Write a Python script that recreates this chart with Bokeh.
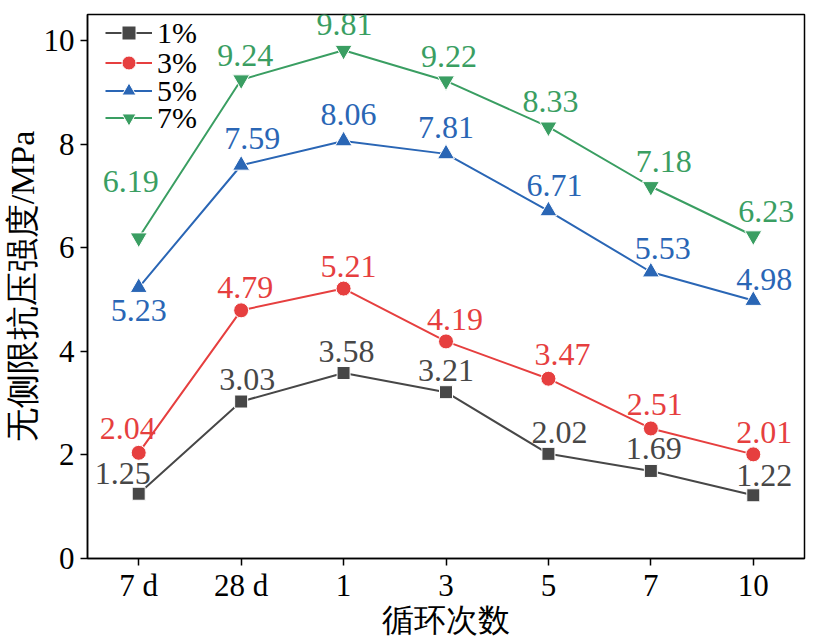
from bokeh.plotting import figure
from bokeh.models import FactorRange, Range1d, ColumnDataSource, Legend, LegendItem, FixedTicker
from bokeh.core.properties import value
from bokeh.embed import file_html
from bokeh.resources import INLINE

cycles = ["7 d", "28 d", "1", "3", "5", "7", "10"]
series_names = ["1%", "3%", "5%", "7%"]
s1 = [1.25, 3.03, 3.58, 3.21, 2.02, 1.69, 1.22]
s3 = [2.04, 4.79, 5.21, 4.19, 3.47, 2.51, 2.01]
s5 = [5.23, 7.59, 8.06, 7.81, 6.71, 5.53, 4.98]
s7 = [6.19, 9.24, 9.81, 9.22, 8.33, 7.18, 6.23]
y_ticks = [0, 2, 4, 6, 8, 10]
x_title = "循环次数"
y_title = "无侧限抗压强度/MPa"

# label placement (screen px offsets, style only)
dx1 = [-16, 6, 3, 0, 11, 3, 11]
dy1 = [-20, -22, -22, -22, -21, -22, -20]
dx3 = [-11, 4, 5, 9, 14, 4, 11]
dy3 = [-24, -23, -22, -22, -24, -24, -22]
dx5 = [0, 11, 5, 0, 6, 12, 11]
dy5 = [23, -27, -26, -26, -25, -23, -21]
dx7 = [-8, 4, 1, 3, 2, 13, 13]
dy7 = [-56, -24, -26, -24, -25, -25, -24]

colors = ["#474747", "#e63f3f", "#2a66b5", "#3a9e62"]
markers = ["square", "circle", "triangle", "inverted_triangle"]
msizes = [13, 15, 17, 17]
legend_bottoms = [508, 478, 450, 423]

SERIF = "Liberation Serif"

p = figure(x_range=FactorRange(factors=cycles, range_padding=0),
           y_range=Range1d(0, 10.5),
           width=821, height=625,
           output_backend="svg", toolbar_location=None,
           min_border_left=84, min_border_right=20, min_border_top=14, min_border_bottom=60)
p.frame_width = 717
p.frame_height = 544

p.grid.visible = False
p.outline_line_color = "black"
p.outline_line_width = 1.5
p.background_fill_color = "white"
p.border_fill_color = "white"

for ax in (p.xaxis[0], p.yaxis[0]):
    ax.axis_line_color = "black"
    ax.axis_line_width = 1.5
    ax.major_tick_line_color = "black"
    ax.major_tick_line_width = 1.5
    ax.major_tick_in = 0
    ax.major_tick_out = 7
    ax.minor_tick_line_color = None
    ax.major_label_text_font = SERIF
    ax.major_label_text_font_size = "31px"
    ax.major_label_text_color = "black"
    ax.axis_label_text_font = SERIF
    ax.axis_label_text_font_size = "32px"
    ax.axis_label_text_font_style = "normal"
    ax.axis_label_text_color = "black"

p.yaxis.ticker = FixedTicker(ticks=y_ticks)
p.yaxis.axis_label = y_title
p.yaxis.axis_label_text_font_size = "34px"
p.xaxis.axis_label = x_title
p.xaxis.major_label_standoff = 2
p.xaxis.axis_label_standoff = -4
p.yaxis.major_label_standoff = 6
p.yaxis.axis_label_standoff = 0
p.xaxis.group_text_font_size = "0px"

all_vals = [s1, s3, s5, s7]
all_dx = [dx1, dx3, dx5, dx7]
all_dy = [dy1, dy3, dy5, dy7]
for name, vals, c, m, ms, dx, dy, lb in zip(series_names, all_vals, colors, markers, msizes,
                                            all_dx, all_dy, legend_bottoms):
    src = ColumnDataSource(dict(x=cycles, y=vals, lab=[f"{v:.2f}" for v in vals], dx=dx, dy=dy))
    ln = p.line("x", "y", source=src, line_color=c, line_width=2)
    sc = p.scatter("x", "y", source=src, marker=m, size=ms, fill_color=c,
                   line_color="white", line_width=1)
    p.text("x", "y", text="lab", source=src, x_offset="dx", y_offset="dy",
           text_font=value(SERIF), text_font_size="32px", text_color=c,
           text_align="center", text_baseline="middle")
    leg = Legend(items=[LegendItem(label=name, renderers=[ln, sc])], location=(18, lb))
    leg.border_line_color = None
    leg.background_fill_alpha = 0
    leg.label_text_font = SERIF
    leg.label_text_font_size = "30px"
    leg.label_text_color = "black"
    leg.glyph_width = 47
    leg.glyph_height = 35
    leg.label_height = 20
    leg.spacing = 0
    leg.padding = 0
    leg.margin = 0
    leg.label_standoff = 5
    p.add_layout(leg)

open("out.html", "w").write(file_html(p, INLINE))
